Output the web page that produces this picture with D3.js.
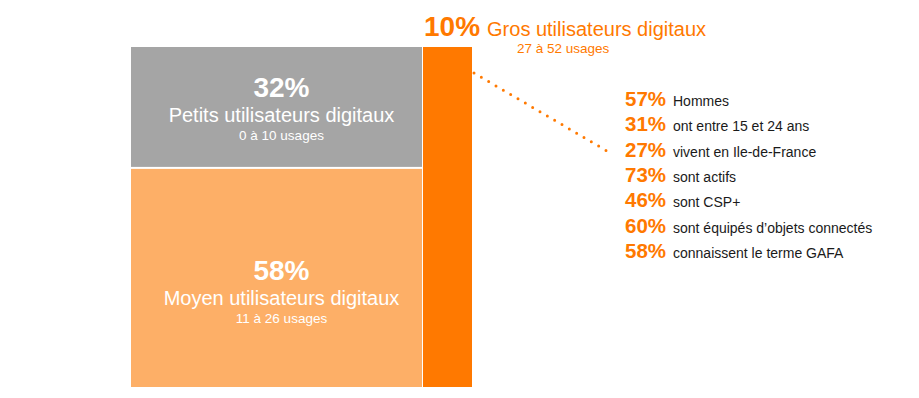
<!DOCTYPE html>
<html>
<head>
<meta charset="utf-8">
<script src="https://cdn.jsdelivr.net/npm/d3@7"></script>
<style>
  body { margin: 0; background: #fff; }
  svg { display: block; font-family: "Liberation Sans", Arial, sans-serif; }
</style>
</head>
<body>
<div id="chart"></div>
<script>
// segments of the left column (share of users)
const segments = ['Petits utilisateurs digitaux', 'Moyen utilisateurs digitaux'];
const segmentShares = [32, 58];
const segmentRanges = ['0 à 10 usages', '11 à 26 usages'];
const segmentColors = ['#a5a5a5', '#fdaf67'];

// heavy users column
const heavyLabel = 'Gros utilisateurs digitaux';
const heavyShare = 10;
const heavyRange = '27 à 52 usages';

// profile of heavy users
const profileValues = [57, 31, 27, 73, 46, 60, 58];
const profileLabels = [
  'Hommes',
  'ont entre 15 et 24 ans',
  'vivent en Ile-de-France',
  'sont actifs',
  'sont CSP+',
  'sont équipés d’objets connectés',
  'connaissent le terme GAFA'
];

const width = 919, height = 398;
const orange = '#ff7900';

const svg = d3.select('#chart').append('svg')
  .attr('width', width)
  .attr('height', height);

// left column stacked from top
const y = d3.scaleLinear()
  .domain([0, d3.sum(segmentShares)])
  .range([47, 387]);

const stacked = segmentShares.map((v, i) => ({
  label: segments[i],
  range: segmentRanges[i],
  color: segmentColors[i],
  value: v,
  y0: d3.sum(segmentShares.slice(0, i)),
  y1: d3.sum(segmentShares.slice(0, i + 1))
}));

const left = { x0: 131, x1: 422 };
const cx = (left.x0 + left.x1) / 2 + 5;

const seg = svg.append('g')
  .selectAll('g')
  .data(stacked)
  .join('g');

seg.append('rect')
  .attr('x', left.x0)
  .attr('width', left.x1 - left.x0)
  .attr('y', (d, i) => y(d.y0) + (i ? 1 : 0))
  .attr('height', (d, i) => y(d.y1) - y(d.y0) - 1)
  .attr('fill', (d) => d.color);

const textTop = [97, 280];
seg.append('text')
  .attr('x', cx)
  .attr('y', (d, i) => textTop[i])
  .attr('text-anchor', 'middle')
  .attr('fill', '#fff')
  .attr('font-weight', 'bold')
  .attr('font-size', 28)
  .text((d) => `${d.value}%`);

seg.append('text')
  .attr('x', cx)
  .attr('y', (d, i) => textTop[i] + 25)
  .attr('text-anchor', 'middle')
  .attr('fill', '#fff')
  .attr('font-size', 20)
  .text((d) => d.label);

seg.append('text')
  .attr('x', cx)
  .attr('y', (d, i) => textTop[i] + 43)
  .attr('text-anchor', 'middle')
  .attr('fill', '#fff')
  .attr('font-size', 13.5)
  .text((d) => d.range);

// heavy users bar
svg.append('rect')
  .attr('x', 423)
  .attr('width', 49)
  .attr('y', y(0))
  .attr('height', y(d3.sum(segmentShares)) - y(0))
  .attr('fill', orange);

const head = svg.append('text')
  .attr('x', 424)
  .attr('y', 36)
  .attr('fill', orange);
head.append('tspan')
  .attr('font-weight', 'bold')
  .attr('font-size', 28)
  .text(`${heavyShare}%`);
head.append('tspan')
  .attr('dx', 7)
  .attr('font-size', 20)
  .text(heavyLabel);

svg.append('text')
  .attr('x', 517)
  .attr('y', 53)
  .attr('fill', orange)
  .attr('font-size', 13.5)
  .text(heavyRange);

// dotted connector
svg.append('line')
  .attr('x1', 474).attr('y1', 73)
  .attr('x2', 607).attr('y2', 151)
  .attr('stroke', orange)
  .attr('stroke-width', 3)
  .attr('stroke-linecap', 'round')
  .attr('stroke-dasharray', '0 8.5');

// profile list
const row = d3.scaleLinear()
  .domain([0, profileValues.length - 1])
  .range([106, 258]);

const item = svg.append('g')
  .selectAll('g')
  .data(profileValues)
  .join('g')
  .attr('transform', (d, i) => `translate(0,${row(i)})`);

item.append('text')
  .attr('x', 625)
  .attr('fill', orange)
  .attr('font-weight', 'bold')
  .attr('font-size', 20.5)
  .text((d) => `${d}%`);

item.append('text')
  .attr('x', 673)
  .attr('fill', '#1a1a1a')
  .attr('font-size', 14)
  .text((d, i) => profileLabels[i]);
</script>
</body>
</html>
